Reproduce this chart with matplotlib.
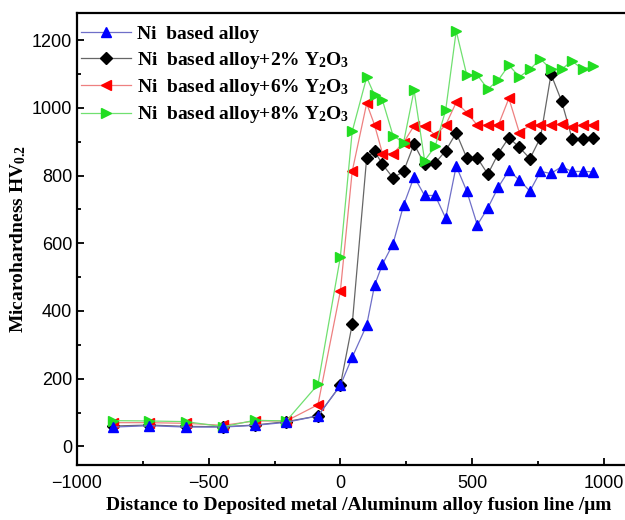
import matplotlib
matplotlib.use("Agg")
import matplotlib.pyplot as plt
from matplotlib.ticker import MultipleLocator

plt.rcParams['mathtext.fontset'] = 'custom'
plt.rcParams['mathtext.bf'] = 'Liberation Serif:bold'
plt.rcParams['mathtext.rm'] = 'Liberation Serif:bold'
plt.rcParams['mathtext.default'] = 'bf'

# distance to fusion line (um)
distance = [-865, -725, -585, -445, -325, -205, -85,
            0, 45, 100, 130, 160, 200, 240, 280, 320, 360, 400, 440, 480,
            520, 560, 600, 640, 680, 720, 760, 800, 840, 880, 920, 960]

ni_base = [57, 61, 57, 57, 62, 71, 90,
           180, 263, 358, 476, 538, 598, 712, 796, 741, 741, 674, 828, 754,
           654, 704, 766, 815, 786, 754, 812, 806, 826, 812, 812, 811]
y2o3_2 = [60, 63, 59, 58, 63, 73, 90,
          180, 360, 852, 872, 833, 793, 812, 893, 833, 837, 873, 926, 852,
          852, 804, 865, 912, 883, 850, 912, 1099, 1020, 909, 909, 912]
y2o3_6 = [70, 70, 68, 62, 75, 75, 123,
          458, 812, 1013, 949, 865, 865, 897, 947, 947, 919, 949, 1016, 986,
          949, 949, 949, 1028, 926, 949, 949, 949, 951, 944, 949, 949]
y2o3_8 = [76, 75, 73, 58, 77, 75, 183,
          559, 930, 1090, 1037, 1022, 918, 897, 1052, 844, 886, 993, 1227, 1097,
          1097, 1055, 1082, 1126, 1091, 1114, 1144, 1114, 1114, 1138, 1114, 1123]

labels = ['Ni  based alloy',
          'Ni  based alloy+2% Y$_2$O$_3$',
          'Ni  based alloy+6% Y$_2$O$_3$',
          'Ni  based alloy+8% Y$_2$O$_3$']

fig = plt.figure(figsize=(6.25, 5.2), dpi=100)
# right spine falls outside the picture, like the cropped original
ax = fig.add_axes([0.1232, 0.1058, 0.9, 0.8692])

l1, = ax.plot(distance, ni_base, color='#6f6fc8', lw=0.9, marker='^', ms=7.5,
              mfc='#0000ff', mec='#0000ff', zorder=6)
l2, = ax.plot(distance, y2o3_2, color='#666666', lw=0.9, marker='D', ms=6,
              mfc='black', mec='black', zorder=3)
l3, = ax.plot(distance, y2o3_6, color='#ee8080', lw=0.9, marker='<', ms=7.5,
              mfc='#ff0000', mec='#ff0000', zorder=4)
l4, = ax.plot(distance, y2o3_8, color='#70e070', lw=0.9, marker='>', ms=7.5,
              mfc='#22dd22', mec='#22dd22', zorder=5)

ax.set_xlim(-1000, 1136)
ax.set_ylim(-55, 1280)
ax.xaxis.set_major_locator(MultipleLocator(500))
ax.xaxis.set_minor_locator(MultipleLocator(250))
ax.yaxis.set_major_locator(MultipleLocator(200))
ax.yaxis.set_minor_locator(MultipleLocator(100))
ax.tick_params(which='both', direction='in', width=1.3)
ax.tick_params(which='major', length=5, labelsize=13)
ax.tick_params(axis='x', which='major', pad=7)
ax.tick_params(which='minor', length=3)
for lab in ax.get_xticklabels() + ax.get_yticklabels():
    lab.set_family('Liberation Sans')
for s in ax.spines.values():
    s.set_linewidth(1.6)

ax.set_xlabel('Distance to Deposited metal /Aluminum alloy fusion line /\u03bcm',
              family='Liberation Serif', weight='bold', fontsize=14, labelpad=4)
ax.set_ylabel('Micarohardness HV$_{0.2}$',
              family='Liberation Serif', weight='bold', fontsize=14, labelpad=3)

ax.legend([l1, l2, l3, l4], labels, loc='upper left', frameon=False,
          bbox_to_anchor=(0.0, 0.981),
          prop={'family': 'Liberation Serif', 'weight': 'bold', 'size': 14},
          handlelength=2.6, handletextpad=0.3, labelspacing=0.33,
          borderaxespad=0.0, borderpad=0.2)

fig.savefig('out.png', dpi=100)
